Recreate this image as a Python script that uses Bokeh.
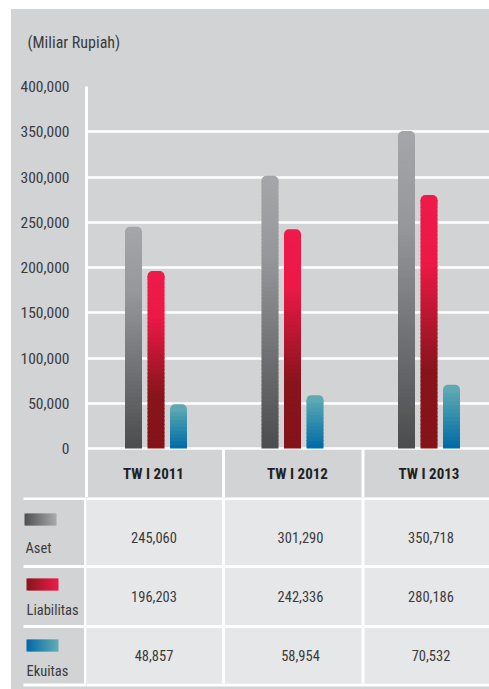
import numpy as np
from bokeh.plotting import figure
from bokeh.models import Range1d, FixedTicker, NumeralTickFormatter, Spacer, ColumnDataSource
from bokeh.layouts import row, column
from bokeh.embed import file_html
from bokeh.resources import INLINE
from bokeh.core.properties import value

# ---------------- data ----------------
periods = ["TW I 2011", "TW I 2012", "TW I 2013"]
series_names = ["Aset", "Liabilitas", "Ekuitas"]
aset = [245060, 301290, 350718]
liabilitas = [196203, 242336, 280186]
ekuitas = [48857, 58954, 70532]
y_ticks = [0, 50000, 100000, 150000, 200000, 250000, 300000, 350000, 400000]
unit_label = "(Miliar Rupiah)"

# ---------------- style / layout ----------------
FONT = "Roboto Condensed"
BG = "#d1d3d4"
CELL = "#e6e7e8"
TXT = "#3b3b3d"
HDR_TXT = "#231f20"

LEFT = 11            # page x of figures
TOP = 9              # page y of top strip
RIGHT = 489
BOTTOM = 689
P_TOP = 66           # page y where the bar figure starts
PX = 136.5           # px per category
X0 = 155.5           # page x of first category centre
PLOT_TOP = 86
PLOT_LEFT = 86
ZERO_Y = 448
HEAD_BOT = 497
YMAX = 400000
SCALE = (ZERO_Y - PLOT_TOP) / YMAX


def ux(px):
    return (px - X0) / PX


def uy(py):
    return (ZERO_Y - py) / SCALE


def hex2rgb(h):
    h = h.lstrip("#")
    return [int(h[i:i + 2], 16) for i in (0, 2, 4)]


def grad(stops, t):
    for (p0, c0), (p1, c1) in zip(stops[:-1], stops[1:]):
        if t <= p1:
            f = 0 if p1 == p0 else (t - p0) / (p1 - p0)
            a, b = hex2rgb(c0), hex2rgb(c1)
            return "#%02x%02x%02x" % tuple(int(round(a[k] + (b[k] - a[k]) * f)) for k in range(3))
    return stops[-1][1]


bar_stops = [
    [(0, "#4b4c4e"), (0.35, "#707174"), (0.7, "#96979a"), (1, "#a5a6a9")],
    [(0, "#85131a"), (0.3, "#87141b"), (0.74, "#ec1946"), (1, "#ee1a4a")],
    [(0, "#006aa6"), (1, "#64aeb3")],
]
swatch_stops = [
    [(0, "#4f5052"), (1, "#a9aaad")],
    [(0, "#88141d"), (1, "#ee1c4a")],
    [(0, "#0068a6"), (1, "#63aeb3")],
]
bar_dx = [-22.5, 0, 22.5]
BAR_W = 17
CAP_R = 5
head_dx = [-2.5, 5, 0]
val_dx = [-2, 8, 2]
sep_px = [85, 223, 362.5]
row_mid = [537, 596, 655]
row_lines = [498, 566, 626, 684.5]
CELL_BOT = 683
label_x = [25, 26, 26]
label_base = [548, 610, 671]
sw_left = [24, 26, 26]
sw_top = [513, 578, 639]
SW_W, SW_H = 32, 12
UNIT_X, UNIT_BASE = 27, 42

all_series = [aset, liabilitas, ekuitas]


def flat_fig(x0, x1, y0, y1):
    f = figure(width=int(round(x1 - x0)), height=int(round(y1 - y0)),
               x_range=Range1d(ux(x0), ux(x1)),
               y_range=Range1d(y1, y0),
               x_axis_location=None, y_axis_location=None,
               output_backend="svg", toolbar_location=None,
               min_border=0, min_border_left=0, min_border_right=0,
               min_border_top=0, min_border_bottom=0,
               background_fill_color=BG, border_fill_color=BG,
               outline_line_color=None)
    f.xgrid.grid_line_color = None
    f.ygrid.grid_line_color = None
    return f


# ---------------- unit strip ----------------
hf = flat_fig(LEFT, RIGHT, TOP, P_TOP)
hf.text(x=[ux(UNIT_X)], y=[UNIT_BASE], text=[unit_label], text_font=value(FONT),
        text_font_size="16px", text_color=TXT, text_align="left",
        text_baseline="alphabetic")

# ---------------- bar figure (bars + header) ----------------
p = figure(width=RIGHT - LEFT, height=HEAD_BOT - P_TOP,
           x_range=Range1d(ux(PLOT_LEFT), ux(RIGHT)),
           y_range=Range1d(uy(HEAD_BOT), uy(PLOT_TOP)),
           x_axis_location=None, y_axis_location="left",
           output_backend="svg", toolbar_location=None,
           min_border_left=PLOT_LEFT - LEFT, min_border_right=0,
           min_border_top=PLOT_TOP - P_TOP, min_border_bottom=0,
           background_fill_color=BG, border_fill_color=BG,
           outline_line_color=None)

sx, sb, st, sc = [], [], [], []
cx, cb, ct, cc = [], [], [], []
r_units = CAP_R / SCALE
for j, vals in enumerate(all_series):
    for i, v in enumerate(vals):
        x = i + bar_dx[j] / PX
        body_top = v - r_units
        n = max(4, int(v * SCALE / 4))
        h = body_top / n
        for k in range(n):
            b = k * h
            t = min(body_top, b + h + 1.0 / SCALE)
            sx.append(x); sb.append(b); st.append(t)
            sc.append(grad(bar_stops[j], (k + 0.5) / n * (body_top / v)))
        cx.append(x); cb.append(v - 1.4 * r_units); ct.append(v)
        cc.append(grad(bar_stops[j], 1.0 - 0.7 * r_units / v))

p.vbar(x="x", bottom="b", top="t", width=BAR_W / PX, fill_color="c", line_color=None,
       source=ColumnDataSource(dict(x=sx, b=sb, t=st, c=sc)))
p.vbar(x="x", bottom="b", top="t", width=BAR_W / PX, fill_color="c", line_color=None,
       border_radius=(CAP_R, CAP_R, 0, 0),
       source=ColumnDataSource(dict(x=cx, b=cb, t=ct, c=cc)))

# header separators + period labels
hx = [ux(s) for s in sep_px[1:]]
p.segment(x0=hx, x1=hx, y0=[uy(HEAD_BOT)] * len(hx), y1=[0] * len(hx),
          line_color="white", line_width=3)
p.text(x=[i + head_dx[i] / PX for i in range(len(periods))],
       y=[uy((ZERO_Y + HEAD_BOT) / 2 + 1)] * len(periods), text=periods,
       text_font=value(FONT), text_font_style="bold", text_font_size="15px",
       text_align="center", text_baseline="middle", text_color=HDR_TXT)

p.yaxis.ticker = FixedTicker(ticks=y_ticks)
p.yaxis.formatter = NumeralTickFormatter(format="0,0")
p.yaxis.axis_line_color = "white"
p.yaxis.axis_line_width = 3
p.yaxis.major_tick_line_color = None
p.yaxis.minor_tick_line_color = None
p.yaxis.major_label_text_font = FONT
p.yaxis.major_label_text_font_size = "15.5px"
p.yaxis.major_label_text_color = TXT
p.yaxis.major_label_standoff = 11
p.ygrid.grid_line_color = "white"
p.ygrid.grid_line_width = 2.5
p.xgrid.grid_line_color = None

# ---------------- table: label column ----------------
ql = flat_fig(LEFT, PLOT_LEFT, HEAD_BOT, BOTTOM)
ql.segment(x0=[ux(23)] * len(row_lines), x1=[ux(PLOT_LEFT) + 0.1] * len(row_lines),
           y0=row_lines, y1=row_lines, line_color="white", line_width=3)
ql.segment(x0=[ux(sep_px[0])], x1=[ux(sep_px[0])], y0=[HEAD_BOT], y1=[CELL_BOT],
           line_color="white", line_width=3)

wl, wr, wb, wt, wc = [], [], [], [], []
NS = 16
for j in range(len(series_names)):
    for k in range(NS):
        l = sw_left[j] + SW_W * k / NS
        r = min(sw_left[j] + SW_W, l + SW_W / NS + 1)
        wl.append(ux(l)); wr.append(ux(r))
        wt.append(sw_top[j]); wb.append(sw_top[j] + SW_H)
        wc.append(grad(swatch_stops[j], (k + 0.5) / NS))
ql.quad(left="l", right="r", bottom="b", top="t", fill_color="c", line_color=None,
        source=ColumnDataSource(dict(l=wl, r=wr, b=wb, t=wt, c=wc)))
ql.text(x=[ux(v) for v in label_x], y=label_base, text=series_names,
        text_font=value(FONT), text_font_size="14.5px", text_color=TXT,
        text_align="left", text_baseline="alphabetic")

# ---------------- table: value cells ----------------
qc = flat_fig(PLOT_LEFT, RIGHT, HEAD_BOT, BOTTOM)
qc.quad(left=[ux(sep_px[0])], right=[ux(RIGHT) + 0.1], bottom=[CELL_BOT], top=[HEAD_BOT],
        fill_color=CELL, line_color=None)
qc.segment(x0=[ux(PLOT_LEFT) - 0.1] * len(row_lines), x1=[ux(RIGHT) + 0.1] * len(row_lines),
           y0=row_lines, y1=row_lines, line_color="white", line_width=3)
vx = [ux(s) for s in sep_px]
qc.segment(x0=vx, x1=vx, y0=[HEAD_BOT] * len(vx), y1=[CELL_BOT] * len(vx),
           line_color="white", line_width=3)

tx, ty, tt = [], [], []
for j, vals in enumerate(all_series):
    for i, v in enumerate(vals):
        tx.append(i + val_dx[i] / PX)
        ty.append(row_mid[j])
        tt.append(f"{v:,}")
qc.text(x=tx, y=ty, text=tt, text_font=value(FONT), text_font_size="14.5px",
        text_color=TXT, text_align="center", text_baseline="middle")

inner = column(row(hf), p, row(ql, qc), styles={"background-color": BG})
layout = column(Spacer(width=RIGHT, height=TOP),
                row(Spacer(width=LEFT, height=BOTTOM - TOP), inner))

open("out.html", "w").write(file_html(layout, INLINE))
